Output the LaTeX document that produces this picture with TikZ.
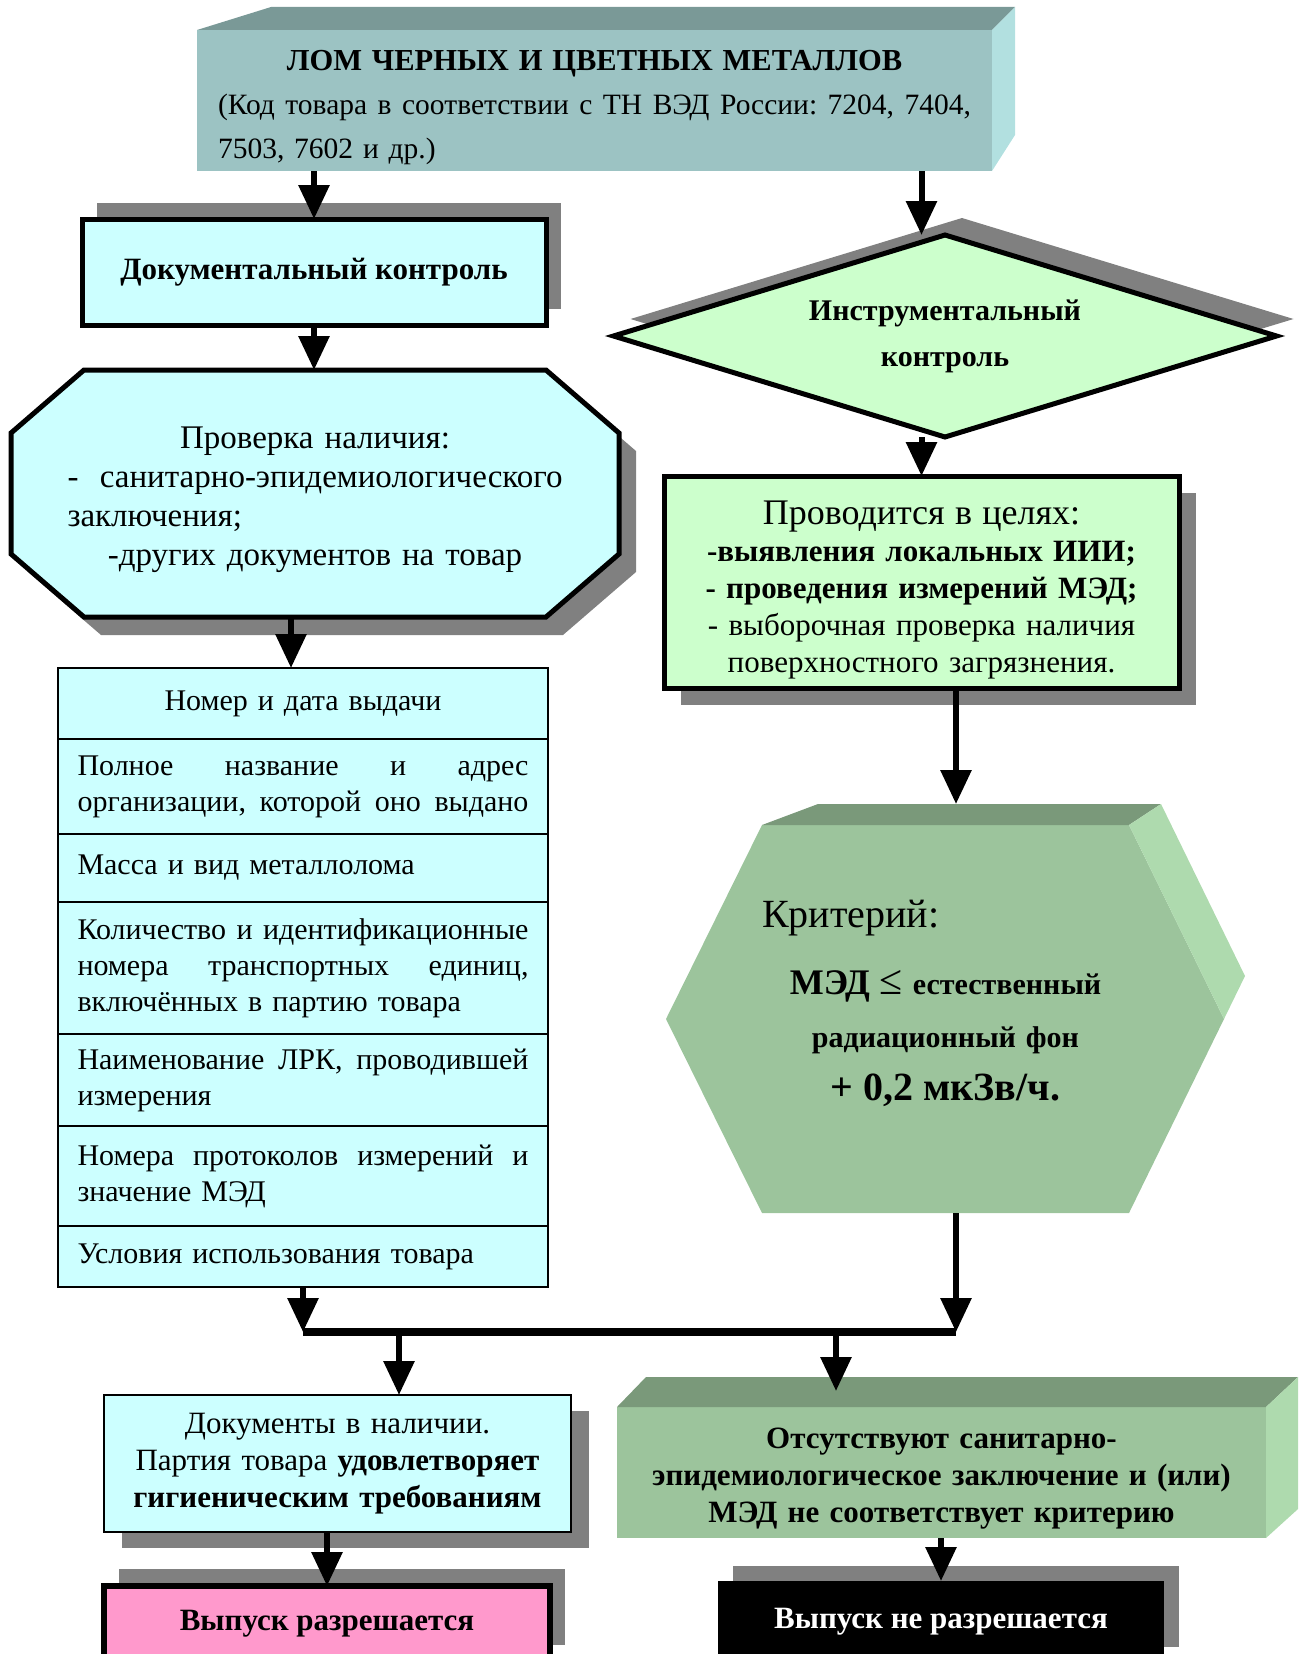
\documentclass[tikz,border=0pt]{standalone}
\usepackage{fontspec}
\setmainfont{Liberation Serif}
\usetikzlibrary{arrows.meta,shapes.geometric,shadows,backgrounds}

\definecolor{lomfront}{RGB}{156,195,195}
\definecolor{lomtop}{RGB}{122,153,151}
\definecolor{lomside}{RGB}{178,224,224}
\definecolor{doccyan}{RGB}{204,255,255}
\definecolor{insgreen}{RGB}{204,255,204}
\definecolor{critfront}{RGB}{156,196,156}
\definecolor{crittop}{RGB}{122,153,122}
\definecolor{critside}{RGB}{174,218,174}
\definecolor{okpink}{RGB}{255,153,204}
\definecolor{shd}{RGB}{128,128,128}

\begin{document}
\begin{tikzpicture}[
    x = 1pt, y = -1pt,
    >={Triangle[length = 34pt, width = 30pt]},
    flow/.style = {->, line width = 6pt},
    txt/.style = {font = \fontsize{31}{37}\selectfont, inner sep = 0pt, outer sep = 0pt},
    boldtxt/.style = {font = \fontsize{31}{37}\selectfont\bfseries},
    fat/.style = {txt, draw, line width = 5pt},
    slim/.style = {txt, draw, line width = 2pt},
    shadowed/.style 2 args = {drop shadow = {shadow xshift = #1pt, shadow yshift = #2pt, fill = shd, opacity = 1}},
    tabrow/.style = {slim, fill = doccyan, minimum width = 490, text width = 451, align = left, anchor = north, font = \fontsize{30}{36}\selectfont}
    ]
\useasboundingbox (0, 0) rectangle (1300, 1654);
\clip (0, 0) rectangle (1300, 1654);

% scrap metal box (3D)
\node (lom) at (594.5, 100.5) [txt, fill = lomfront, minimum width = 795, minimum height = 141, text width = 753, align = left, font = \fontsize{29.5}{44}\selectfont]
    {{\centering\fontsize{30.5}{44}\selectfont\bfseries\rule{0pt}{35pt}ЛОМ ЧЕРНЫХ И ЦВЕТНЫХ МЕТАЛЛОВ\par}(Код\hfill товара\hfill в\hfill соответствии\hfill с\hfill ТН\hfill ВЭД\hfill России:\hfill 7204,\hfill 7404,\\ 7503, 7602 и др.)};
\fill [lomtop] (lom.north west) -- ++(74, -23) -- ([shift = {(23, -23)}]lom.north east) -- (lom.north east) -- cycle;
\fill [lomside] (lom.north east) -- ([shift = {(23, -23)}]lom.north east) -- ([shift = {(23, -36)}]lom.south east) -- (lom.south east) -- cycle;

% left branch
\node (doc) at (314, 272) [fat, boldtxt, fill = doccyan, minimum width = 464, minimum height = 106, shadowed = {15}{16}]{Документальный контроль};
\node (chk) at (315, 493.5) [txt, minimum width = 608, minimum height = 247, text width = 495, align = center, font = \fontsize{33}{39}\selectfont]
    {\rule{0pt}{34.5pt}Проверка наличия:\\ -\hfill санитарно-эпидемиологического\\ заключения;\hfill\null\\ -других документов на товар};
\begin{scope}[on background layer]
    \filldraw [line width = 5pt, fill = doccyan, shadowed = {17}{-18}]
        ([xshift = 73pt]chk.north west) -- ([xshift = -73pt]chk.north east) -- ([shift = {(0, 63)}]chk.north east)
        -- ([shift = {(0, -63)}]chk.south east) -- ([xshift = -73pt]chk.south east) -- ([xshift = 73pt]chk.south west)
        -- ([shift = {(0, -63)}]chk.south west) -- ([shift = {(0, 63)}]chk.north west) -- cycle;
\end{scope}

\node (tab1) at (303, 668)    [tabrow, minimum height = 71, align = center]{Номер и дата выдачи};
\node (tab2) at (tab1.south)  [tabrow, minimum height = 95]{Полное\hfill название\hfill и\hfill адрес\\ организации,\hfill которой\hfill оно\hfill выдано};
\node (tab3) at (tab2.south)  [tabrow, minimum height = 68]{Масса и вид металлолома};
\node (tab4) at (tab3.south)  [tabrow, minimum height = 132]{Количество\hfill и\hfill идентификационные\\ номера\hfill транспортных\hfill единиц,\\ включённых в партию товара};
\node (tab5) at (tab4.south)  [tabrow, minimum height = 92]{Наименование\hfill ЛРК,\hfill проводившей\\ измерения};
\node (tab6) at (tab5.south)  [tabrow, minimum height = 100]{Номера\hfill протоколов\hfill измерений\hfill и\\ значение МЭД};
\node (tab7) at (tab6.south)  [tabrow, minimum height = 61]{Условия использования товара};

% right branch
\node (ins) at (945, 336) [fat, diamond, aspect = 3.3, fill = insgreen, minimum width = 663, minimum height = 202, shadowed = {17}{17},
    text width = 300, align = center, font = \fontsize{30}{46}\selectfont\bfseries]{Инструментальный\\ контроль};
\node (goal) at (921.5, 582) [fat, fill = insgreen, minimum width = 515, minimum height = 212, shadowed = {17}{-17},
    text width = 490, align = center, font = \fontsize{31}{37}\selectfont]
    {{\fontsize{36}{37}\selectfont\rule{0pt}{38.6pt}Проводится в целях:}\\ \textbf{-выявления локальных ИИИ;}\\ \textbf{- проведения измерений МЭД;}\\ - выборочная проверка наличия\\ поверхностного загрязнения.};

\node (crit) at (945.5, 1019) [txt, minimum width = 367, minimum height = 388, text width = 367, align = center, font = \fontsize{30}{53}\selectfont\bfseries]
    {{\fontsize{40}{53}\selectfont\mdseries Критерий:}\hfill\null\\[14pt] {\fontsize{36}{53}\selectfont МЭД {\mdseries\fontsize{42}{53}\selectfont ≤}} естественный\\ радиационный фон\\ {\fontsize{40}{53}\selectfont + 0,2 мкЗв/ч.\rule[-38pt]{0pt}{0pt}}};
\begin{scope}[on background layer]
    \fill [critfront] (crit.north west) -- (crit.north east) -- ([xshift = 95pt]crit.east) -- (crit.south east) -- (crit.south west) -- ([xshift = -96pt]crit.west) -- cycle;
    \fill [crittop] (crit.north west) -- ([shift = {(56, -21)}]crit.north west) -- ([shift = {(32, -21)}]crit.north east) -- (crit.north east) -- cycle;
    \fill [critside] (crit.north east) -- ([shift = {(32, -21)}]crit.north east) -- ([shift = {(116, -43)}]crit.east) -- ([xshift = 95pt]crit.east) -- cycle;
\end{scope}

% results
\node (ok) at (337.5, 1463.5) [slim, fill = doccyan, minimum width = 467, minimum height = 137, shadowed = {18}{-16}, text width = 450, align = center]
    {Документы в наличии.\\ Партия товара \textbf{удовлетворяет}\\ \textbf{гигиеническим требованиям}};
\node (nok) at (941.5, 1472.5) [txt, fill = critfront, minimum width = 649, minimum height = 131, text width = 630, align = center, font = \fontsize{31}{37}\selectfont\bfseries]
    {\rule{0pt}{33pt}Отсутствуют санитарно-\\ эпидемиологическое заключение и (или)\\ МЭД не соответствует критерию};
\fill [crittop] (nok.north west) -- ([shift = {(29, -30)}]nok.north west) -- ([shift = {(32, -30)}]nok.north east) -- (nok.north east) -- cycle;
\fill [critside] (nok.north east) -- ([shift = {(32, -30)}]nok.north east) -- ([shift = {(32, -29)}]nok.south east) -- (nok.south east) -- cycle;

\node (pink) at (327, 1624) [fat, boldtxt, line width = 6pt, fill = okpink, minimum width = 446, minimum height = 76, shadowed = {15}{17}]{Выпуск разрешается};
\node (stop) at (941, 1621.5) [txt, boldtxt, fill = black, text = white, minimum width = 446, minimum height = 81, shadowed = {15}{15}]{Выпуск не разрешается};

% connectors
\coordinate (tabin) at (291, 668);
\coordinate (critin) at ([shift = {(10.5, -21)}]crit.north);
\coordinate (jl) at (303, 1332);
\coordinate (jr) at (956, 1332);
\coordinate (d1) at (399, 1332);
\coordinate (d2) at (836, 1332);
\coordinate (nokin) at (836, 1391);

\draw [flow] (lom.south -| doc.north) -- (doc.north);
\draw [flow] (lom.south -| goal.north) -- (goal.north |- ins.north);
\draw [flow] (doc.south) -- (doc.south |- chk.north);
\draw [flow] (ins.south -| goal.north) -- (goal.north);
\draw [flow] (chk.south -| tabin) -- (tabin);
\draw [flow] (goal.south -| critin) -- (critin);
\draw [flow] (tab7.south) -- (tab7.south |- jl);
\draw [flow] (crit.south -| jr) -- (jr);
\draw [line width = 8pt] (jl) -- (jr);
\draw [flow] (d1) -- (d1 |- ok.north);
\draw [flow] (d2) -- (nokin);
\draw [flow] (ok.south -| pink.north) -- (pink.north);
\draw [flow] (nok.south -| stop.north) -- (stop.north);
\end{tikzpicture}
\end{document}
